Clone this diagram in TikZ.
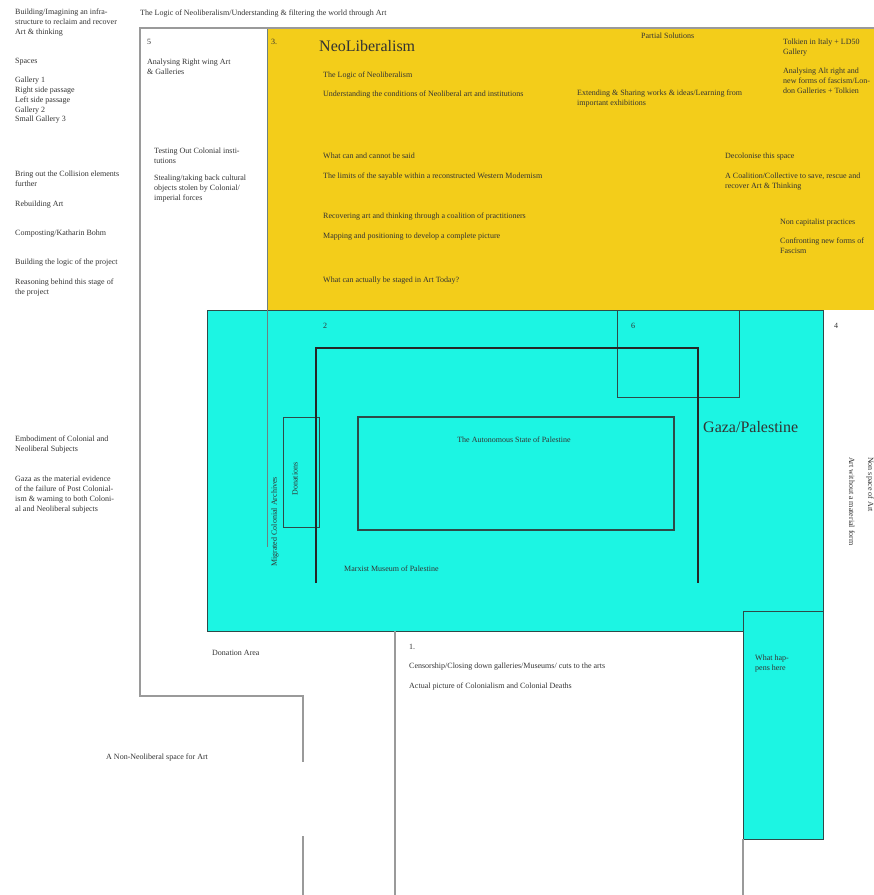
\documentclass[tikz,border=0pt]{standalone}
\usepackage{fontspec}
\setmainfont{Liberation Serif}
\usepackage{tikz}
\usetikzlibrary{positioning}
\definecolor{neoyellow}{HTML}{F3CD1A}
\definecolor{gazacyan}{HTML}{1CF5E3}
\definecolor{wallgray}{HTML}{9A9A9A}
\definecolor{edgedark}{HTML}{2E4A48}
\definecolor{txtcolor}{HTML}{333333}
\begin{document}
\begin{tikzpicture}[x=1pt, y=-1pt, every node/.style={font=\fontsize{8}{9.8}\selectfont, text=txtcolor, inner sep=0pt}]
\tikzstyle{lbl}=[anchor=north west, align=left]
\tikzstyle{big}=[anchor=west, font=\fontsize{16}{18}\selectfont]
\tikzstyle{wall}=[draw=wallgray, line width=1.2pt]
\tikzstyle{edge}=[draw=edgedark, line width=0.8pt]
\tikzstyle{museum}=[draw=black!85, line width=1.8pt]
\useasboundingbox (0,0) rectangle (874,895);

% rooms
\fill[neoyellow] (267,28) rectangle (874,310);
\filldraw[fill=gazacyan, edge] (207,310) rectangle (823,631);
\filldraw[fill=gazacyan, edge] (743,611) rectangle (823,839);
\draw[edge] (617,310) rectangle (739,397);
\draw[edge] (283,417) rectangle (319,527);
\draw[edge, line width=1.2pt] (358,417) rectangle (674,530);
\draw[museum] (316,583) -- (316,348) -- (698,348) -- (698,583);
\draw[wall, draw=edgedark!70, line width=1pt] (267,28) -- (267,547);

% walls
\draw[wall] (874,28) -- (140,28) -- (140,696) -- (303,696) -- (303,762);
\draw[wall] (303,836) -- (303,895);
\draw[wall] (395,631) -- (395,895);
\draw[wall] (743,839) -- (743,895);

% left column
\node[lbl] (infra) at (15,9) {Building/Imagining an infra-\\structure to reclaim and recover\\Art \& thinking};
\node[lbl] (spaces) at (15,58) {Spaces};
\node[lbl] (rooms) at (15,77) {Gallery 1\\Right side passage\\Left side passage\\Gallery 2\\Small Gallery 3};
\node[lbl] (collision) at (15,171) {Bring out the Collision elements\\further};
\node[lbl] (rebuild) at (15,201) {Rebuilding Art};
\node[lbl] (compost) at (15,230) {Composting/Katharin Bohm};
\node[lbl] (logic) at (15,259) {Building the logic of the project};
\node[lbl] (reason) at (15,279) {Reasoning behind this stage of\\the project};
\node[lbl] (embody) at (15,436) {Embodiment of Colonial and\\Neoliberal Subjects};
\node[lbl] (evidence) at (15,476) {Gaza as the material evidence\\of the failure of Post Colonial-\\ism \& warning to both Coloni-\\al and Neoliberal subjects};
\node[lbl] (nonneo) at (106,754) {A Non-Neoliberal space for Art};
\node[lbl] (donarea) at (212,650) {Donation Area};

% header
\node[lbl] (header) at (140,10) {The Logic of Neoliberalism/Understanding \& filtering the world through Art};

% room 5
\node[lbl] (five) at (147,39) {5};
\node[lbl] (rightwing) at (147,59) {Analysing Right wing Art\\\& Galleries};
\node[lbl] (testing) at (154,148) {Testing Out Colonial insti-\\tutions};
\node[lbl] (stealing) at (154,175) {Stealing/taking back cultural\\objects stolen by Colonial/\\imperial forces};

% room 3
\node[lbl] (three) at (271,39) {3.};
\node[big] (neolib) at (319,46) {NeoLiberalism};
\node[lbl] (logicneo) at (323,72) {The Logic of Neoliberalism};
\node[lbl] (conditions) at (323,91) {Understanding the conditions of Neoliberal art and institutions};
\node[lbl] (partial) at (641,33) {Partial Solutions};
\node[lbl] (extending) at (577,90) {Extending \& Sharing works \& ideas/Learning from\\important exhibitions};
\node[lbl] (tolkien) at (783,39) {Tolkien in Italy + LD50\\Gallery};
\node[lbl] (altright) at (783,68) {Analysing Alt right and\\new forms of fascism/Lon-\\don Galleries + Tolkien};
\node[lbl] (sayable) at (323,153) {What can and cannot be said};
\node[lbl] (limits) at (323,173) {The limits of the sayable within a reconstructed Western Modernism};
\node[lbl] (decolonise) at (725,153) {Decolonise this space};
\node[lbl] (coalition) at (725,173) {A Coalition/Collective to save, rescue and\\recover Art \& Thinking};
\node[lbl] (recovering) at (323,213) {Recovering art and thinking through a coalition of practitioners};
\node[lbl] (mapping) at (323,233) {Mapping and positioning to develop a complete picture};
\node[lbl] (noncap) at (780,219) {Non capitalist practices};
\node[lbl] (fascism) at (780,238) {Confronting new forms of\\Fascism};
\node[lbl] (staged) at (323,277) {What can actually be staged in Art Today?};

% room 2 / Gaza
\node[lbl] (two) at (323,323) {2};
\node[lbl] (six) at (631,323) {6};
\node[lbl] (four) at (834,323) {4};
\node[big] (gaza) at (703,427) {Gaza/Palestine};
\node (autonomous) at (514,440) {The Autonomous State of Palestine};
\node[rotate=90] (donations) at (295,479) {Donations};
\node[rotate=90, anchor=west] (archives) at (275,567) {Migrated Colonial Archives};
\node[lbl] (marxist) at (344,566) {Marxist Museum of Palestine};
\node[rotate=-90, anchor=west] (nonspace) at (870,457) {Non space of Art};
\node[rotate=-90, anchor=west] (immaterial) at (852,457) {Art without a material form};

% room 1
\node[lbl] (one) at (409,644) {1.};
\node[lbl] (censorship) at (409,663) {Censorship/Closing down galleries/Museums/ cuts to the arts};
\node[lbl] (deaths) at (409,683) {Actual picture of Colonialism and Colonial Deaths};
\node[lbl] (happens) at (755,655) {What hap-\\pens here};
\end{tikzpicture}
\end{document}
